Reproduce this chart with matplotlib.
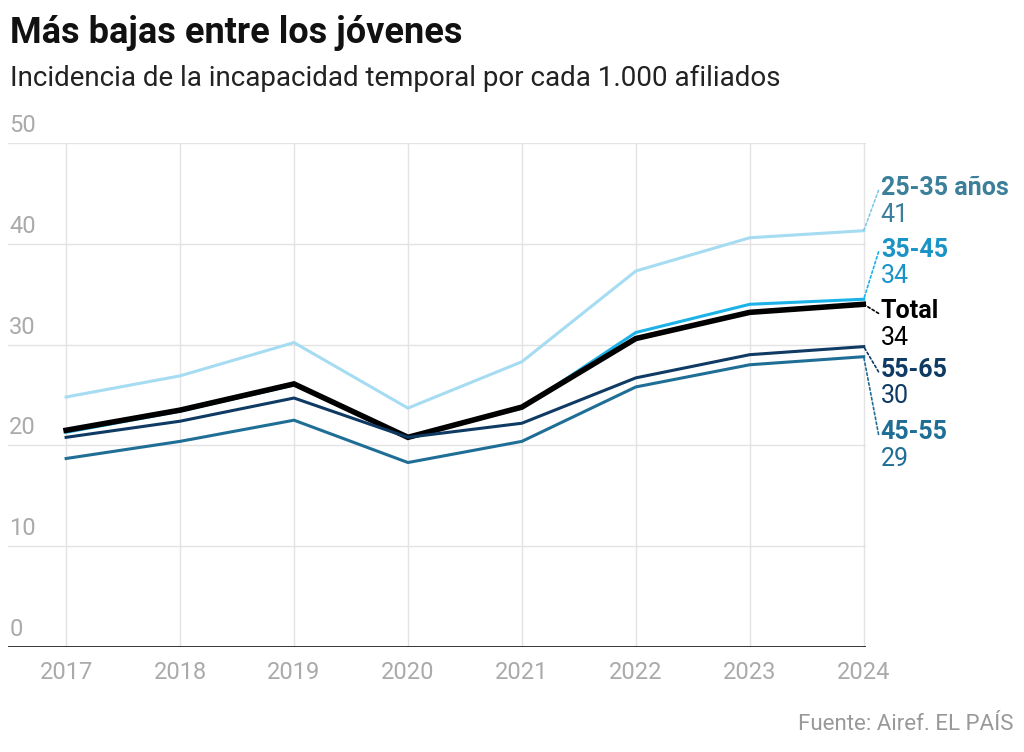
import matplotlib.pyplot as plt
import numpy as np

years = [2017, 2018, 2019, 2020, 2021, 2022, 2023, 2024]

g25_35 = [24.8, 26.9, 30.2, 23.7, 28.3, 37.3, 40.6, 41.3]
g35_45 = [21.3, 23.4, 26.0, 20.8, 23.7, 31.2, 34.0, 34.5]
total = [21.5, 23.5, 26.1, 20.8, 23.8, 30.6, 33.2, 34.0]
g55_65 = [20.8, 22.4, 24.7, 20.8, 22.2, 26.7, 29.0, 29.8]
g45_55 = [18.7, 20.4, 22.5, 18.3, 20.4, 25.8, 28.0, 28.8]

names = ['25-35 años', '35-45', 'Total', '55-65', '45-55']
end_labels = ['41', '34', '34', '30', '29']
series = [g25_35, g35_45, total, g55_65, g45_55]
line_cols = ['#a6dcf2', '#1cb2e8', '#000000', '#0e3a63', '#1f6e96']
text_cols = ['#3b7f9b', '#1a93c6', '#000000', '#0e3a63', '#1f6e96']
widths = [2.2, 2.2, 4.0, 2.2, 2.2]
label_y = [45.5, 39.4, 33.3, 27.5, 21.3]  # where the names sit, in data units

plt.rcParams['font.family'] = ['Roboto', 'DejaVu Sans']

fig = plt.figure(figsize=(10.24, 7.52), dpi=100)
ax = fig.add_axes([8/1024, 105/752, 858/1024, 504/752])
ax.set_xlim(2016.49, 2024.02)
ax.set_ylim(0, 50)

for y in range(10, 51, 10):
    ax.axhline(y, color='#e3e3e3', lw=1, zorder=0)
for x in years:
    ax.axvline(x, color='#e3e3e3', lw=1, zorder=0)
ax.axhline(0, color='#222222', lw=2, zorder=1)

order = [0, 4, 3, 1, 2]
for i in order:
    ax.plot(years, series[i], color=line_cols[i], lw=widths[i],
            solid_joinstyle='miter', zorder=3 + i)

# end labels with dotted connectors
for i in range(5):
    ax.annotate('', xy=(years[-1], series[i][-1]),
                xytext=(years[-1] + 0.13, label_y[i] - 0.2),
                arrowprops=dict(arrowstyle='-', color=line_cols[i] if i else '#7fc9e6',
                                ls=(0, (1.5, 1.5)), lw=1.2, shrinkA=0, shrinkB=0),
                annotation_clip=False)
    ax.text(years[-1] + 0.15, label_y[i], names[i], color=text_cols[i],
            fontsize=18, fontweight='bold', va='center', ha='left', clip_on=False)
    ax.text(years[-1] + 0.15, label_y[i] - 2.6, end_labels[i], color=text_cols[i],
            fontsize=18, va='center', ha='left', clip_on=False)

for y in range(0, 51, 10):
    ax.text(2016.5, y + 0.6, str(y), color='#aaaaaa', fontsize=17,
            va='bottom', ha='left')

ax.set_xticks(years)
ax.set_xticklabels([str(y) for y in years], color='#aaaaaa', fontsize=17)
ax.tick_params(axis='x', length=0, pad=10)
ax.set_yticks([])
for s in ax.spines.values():
    s.set_visible(False)

fig.text(10/1024, 1 - 33/752, 'Más bajas entre los jóvenes', fontsize=26,
         fontweight='bold', va='center', ha='left', color='#111111')
fig.text(10/1024, 1 - 78/752, 'Incidencia de la incapacidad temporal por cada 1.000 afiliados',
         fontsize=20, va='center', ha='left', color='#222222')
fig.text(1014/1024, 1 - 725/752, 'Fuente: Airef. EL PAÍS', fontsize=16,
         va='center', ha='right', color='#999999')

fig.savefig('out.png', dpi=100)
